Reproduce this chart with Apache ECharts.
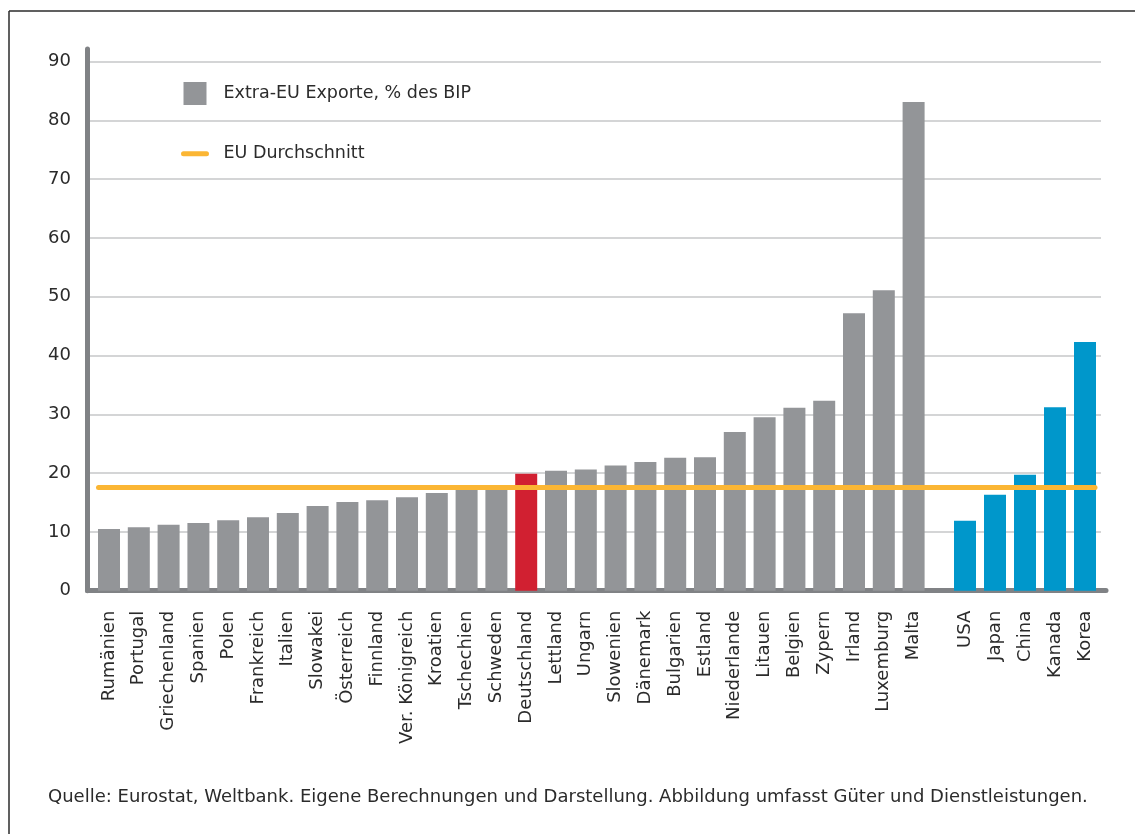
<!DOCTYPE html>
<html>
<head>
<meta charset="utf-8">
<script src="https://cdn.jsdelivr.net/npm/echarts@6/dist/echarts.min.js"></script>
<style>
html,body{margin:0;padding:0;background:#fff;}
#chart{width:1135px;height:834px;}
</style>
</head>
<body>
<div id="chart"></div>
<script>
// ---- data ----
var euCountries = ['Rumänien','Portugal','Griechenland','Spanien','Polen','Frankreich','Italien','Slowakei','Österreich','Finnland','Ver. Königreich','Kroatien','Tschechien','Schweden','Deutschland','Lettland','Ungarn','Slowenien','Dänemark','Bulgarien','Estland','Niederlande','Litauen','Belgien','Zypern','Irland','Luxemburg','Malta'];
var euValues = [10.5,10.8,11.2,11.5,12.0,12.5,13.2,14.4,15.1,15.4,15.9,16.6,17.4,17.5,19.9,20.4,20.6,21.3,21.9,22.6,22.7,27.0,29.5,31.1,32.3,47.2,51.1,83.1];
var otherCountries = ['USA','Japan','China','Kanada','Korea'];
var otherValues = [11.9,16.3,19.7,31.2,42.3];
var euAverage = 17.6;
var highlightCountry = 'Deutschland';
var yTicks = [0,10,20,30,40,50,60,70,80,90];
var seriesNames = ['Extra-EU Exporte, % des BIP','EU Durchschnitt'];
var sourceText = 'Quelle: Eurostat, Weltbank. Eigene Berechnungen und Darstellung. Abbildung umfasst Güter und Dienstleistungen.';

// ---- style ----
var FONT = 'DejaVu Sans';
var TXT = '#2b2b2b';
var GREY = '#939598';
var RED = '#d12031';
var BLUE = '#0097cb';
var ORANGE = '#fbb634';
var AXIS = '#808285';
var Y_MIN = yTicks[0], Y_MAX = yTicks[yTicks.length-1];
var Y_STEP = yTicks[1]-yTicks[0];
var TOP = 61.5, BOTTOM = 243.3;
var pxPerUnit = (834 - BOTTOM - TOP) / (Y_MAX - Y_MIN);
var AXIS_TOP = 49;
var axisExtMax = (834 - BOTTOM - AXIS_TOP) / pxPerUnit;

var chart = echarts.init(document.getElementById('chart'), null, {renderer:'canvas'});

var hiddenY = function(gi, max){
  return {type:'value', gridIndex:gi, min:Y_MIN, max:max===undefined?Y_MAX:max,
    axisLine:{show:false}, axisTick:{show:false}, axisLabel:{show:false}, splitLine:{show:false}};
};
var labelStyle = {rotate:90, margin:20, color:TXT, fontFamily:FONT, fontSize:18, interval:0};

var option = {
  animation:false,
  backgroundColor:'#fff',
  grid:[
    {left:89, right:34, top:TOP, bottom:BOTTOM},           // 0 gridlines + y labels
    {left:87.5, right:29, top:AXIS_TOP, bottom:BOTTOM},    // 1 axis lines
    {left:94.1, width:834.4, top:TOP, bottom:BOTTOM},      // 2 EU bars
    {left:950, width:150, top:TOP, bottom:BOTTOM},         // 3 other bars
    {left:98.5, right:40, top:TOP, bottom:BOTTOM}          // 4 average line
  ],
  xAxis:[
    {type:'category', gridIndex:0, data:[''], show:false},
    {type:'category', gridIndex:1, data:[''], axisLine:{show:true, lineStyle:{color:AXIS, width:5}}, axisTick:{show:false}, axisLabel:{show:false}},
    {type:'category', gridIndex:2, data:euCountries, axisLine:{show:false}, axisTick:{show:false}, axisLabel:labelStyle},
    {type:'category', gridIndex:3, data:otherCountries, axisLine:{show:false}, axisTick:{show:false}, axisLabel:labelStyle},
    {type:'category', gridIndex:4, data:[''], show:false}
  ],
  yAxis:[
    {type:'value', gridIndex:0, min:Y_MIN, max:Y_MAX, interval:Y_STEP,
      axisLine:{show:false}, axisTick:{show:false},
      axisLabel:{margin:18, color:TXT, fontFamily:FONT, fontSize:18},
      splitLine:{show:true, lineStyle:{color:'#d4d5d6', width:2}}},
    {type:'value', gridIndex:1, min:Y_MIN, max:axisExtMax,
      axisLine:{show:true, lineStyle:{color:AXIS, width:5}}, axisTick:{show:false}, axisLabel:{show:false}, splitLine:{show:false}},
    hiddenY(2), hiddenY(3), hiddenY(4)
  ],
  legend:{
    orient:'vertical', left:176, top:77, itemWidth:23, itemHeight:23, itemGap:39.5,
    textStyle:{color:TXT, fontFamily:FONT, fontSize:17.5, padding:[0,0,0,12]},
    lineStyle:{width:'inherit', cap:'round'},
    data:[{name:seriesNames[0], icon:'rect'},
          {name:seriesNames[1], itemStyle:{color:'rgba(0,0,0,0)', borderWidth:0, opacity:0}}]
  },
  series:[
    {name:seriesNames[0], type:'bar', xAxisIndex:2, yAxisIndex:2, barWidth:22,
      itemStyle:{color:GREY},
      data:euValues.map(function(v,i){
        return euCountries[i]===highlightCountry ? {value:v, itemStyle:{color:RED}} : v;
      })},
    {name:'Andere', type:'bar', xAxisIndex:3, yAxisIndex:3, barWidth:22,
      itemStyle:{color:BLUE}, data:otherValues},
    {name:seriesNames[1], type:'line', xAxisIndex:4, yAxisIndex:4, data:[], symbol:'none', showSymbol:false,
      itemStyle:{color:ORANGE},
      lineStyle:{color:ORANGE, width:5, cap:'round'},
      markLine:{silent:true, symbol:['none','none'], label:{show:false},
        lineStyle:{color:ORANGE, width:5, type:'solid', cap:'round'},
        emphasis:{disabled:true},
        data:[{yAxis:euAverage}]}
    }
  ],
  graphic:[
    {type:'line', shape:{x1:9, y1:11, x2:1135, y2:11}, style:{stroke:'#2b2b2b', lineWidth:1.5}},
    {type:'line', shape:{x1:9, y1:11, x2:9, y2:834}, style:{stroke:'#2b2b2b', lineWidth:1.5}},
    {type:'text', left:48, top:788, style:{text:sourceText, fill:TXT, font:'18px "DejaVu Sans"'}}
  ]
};
chart.setOption(option);
</script>
</body>
</html>
